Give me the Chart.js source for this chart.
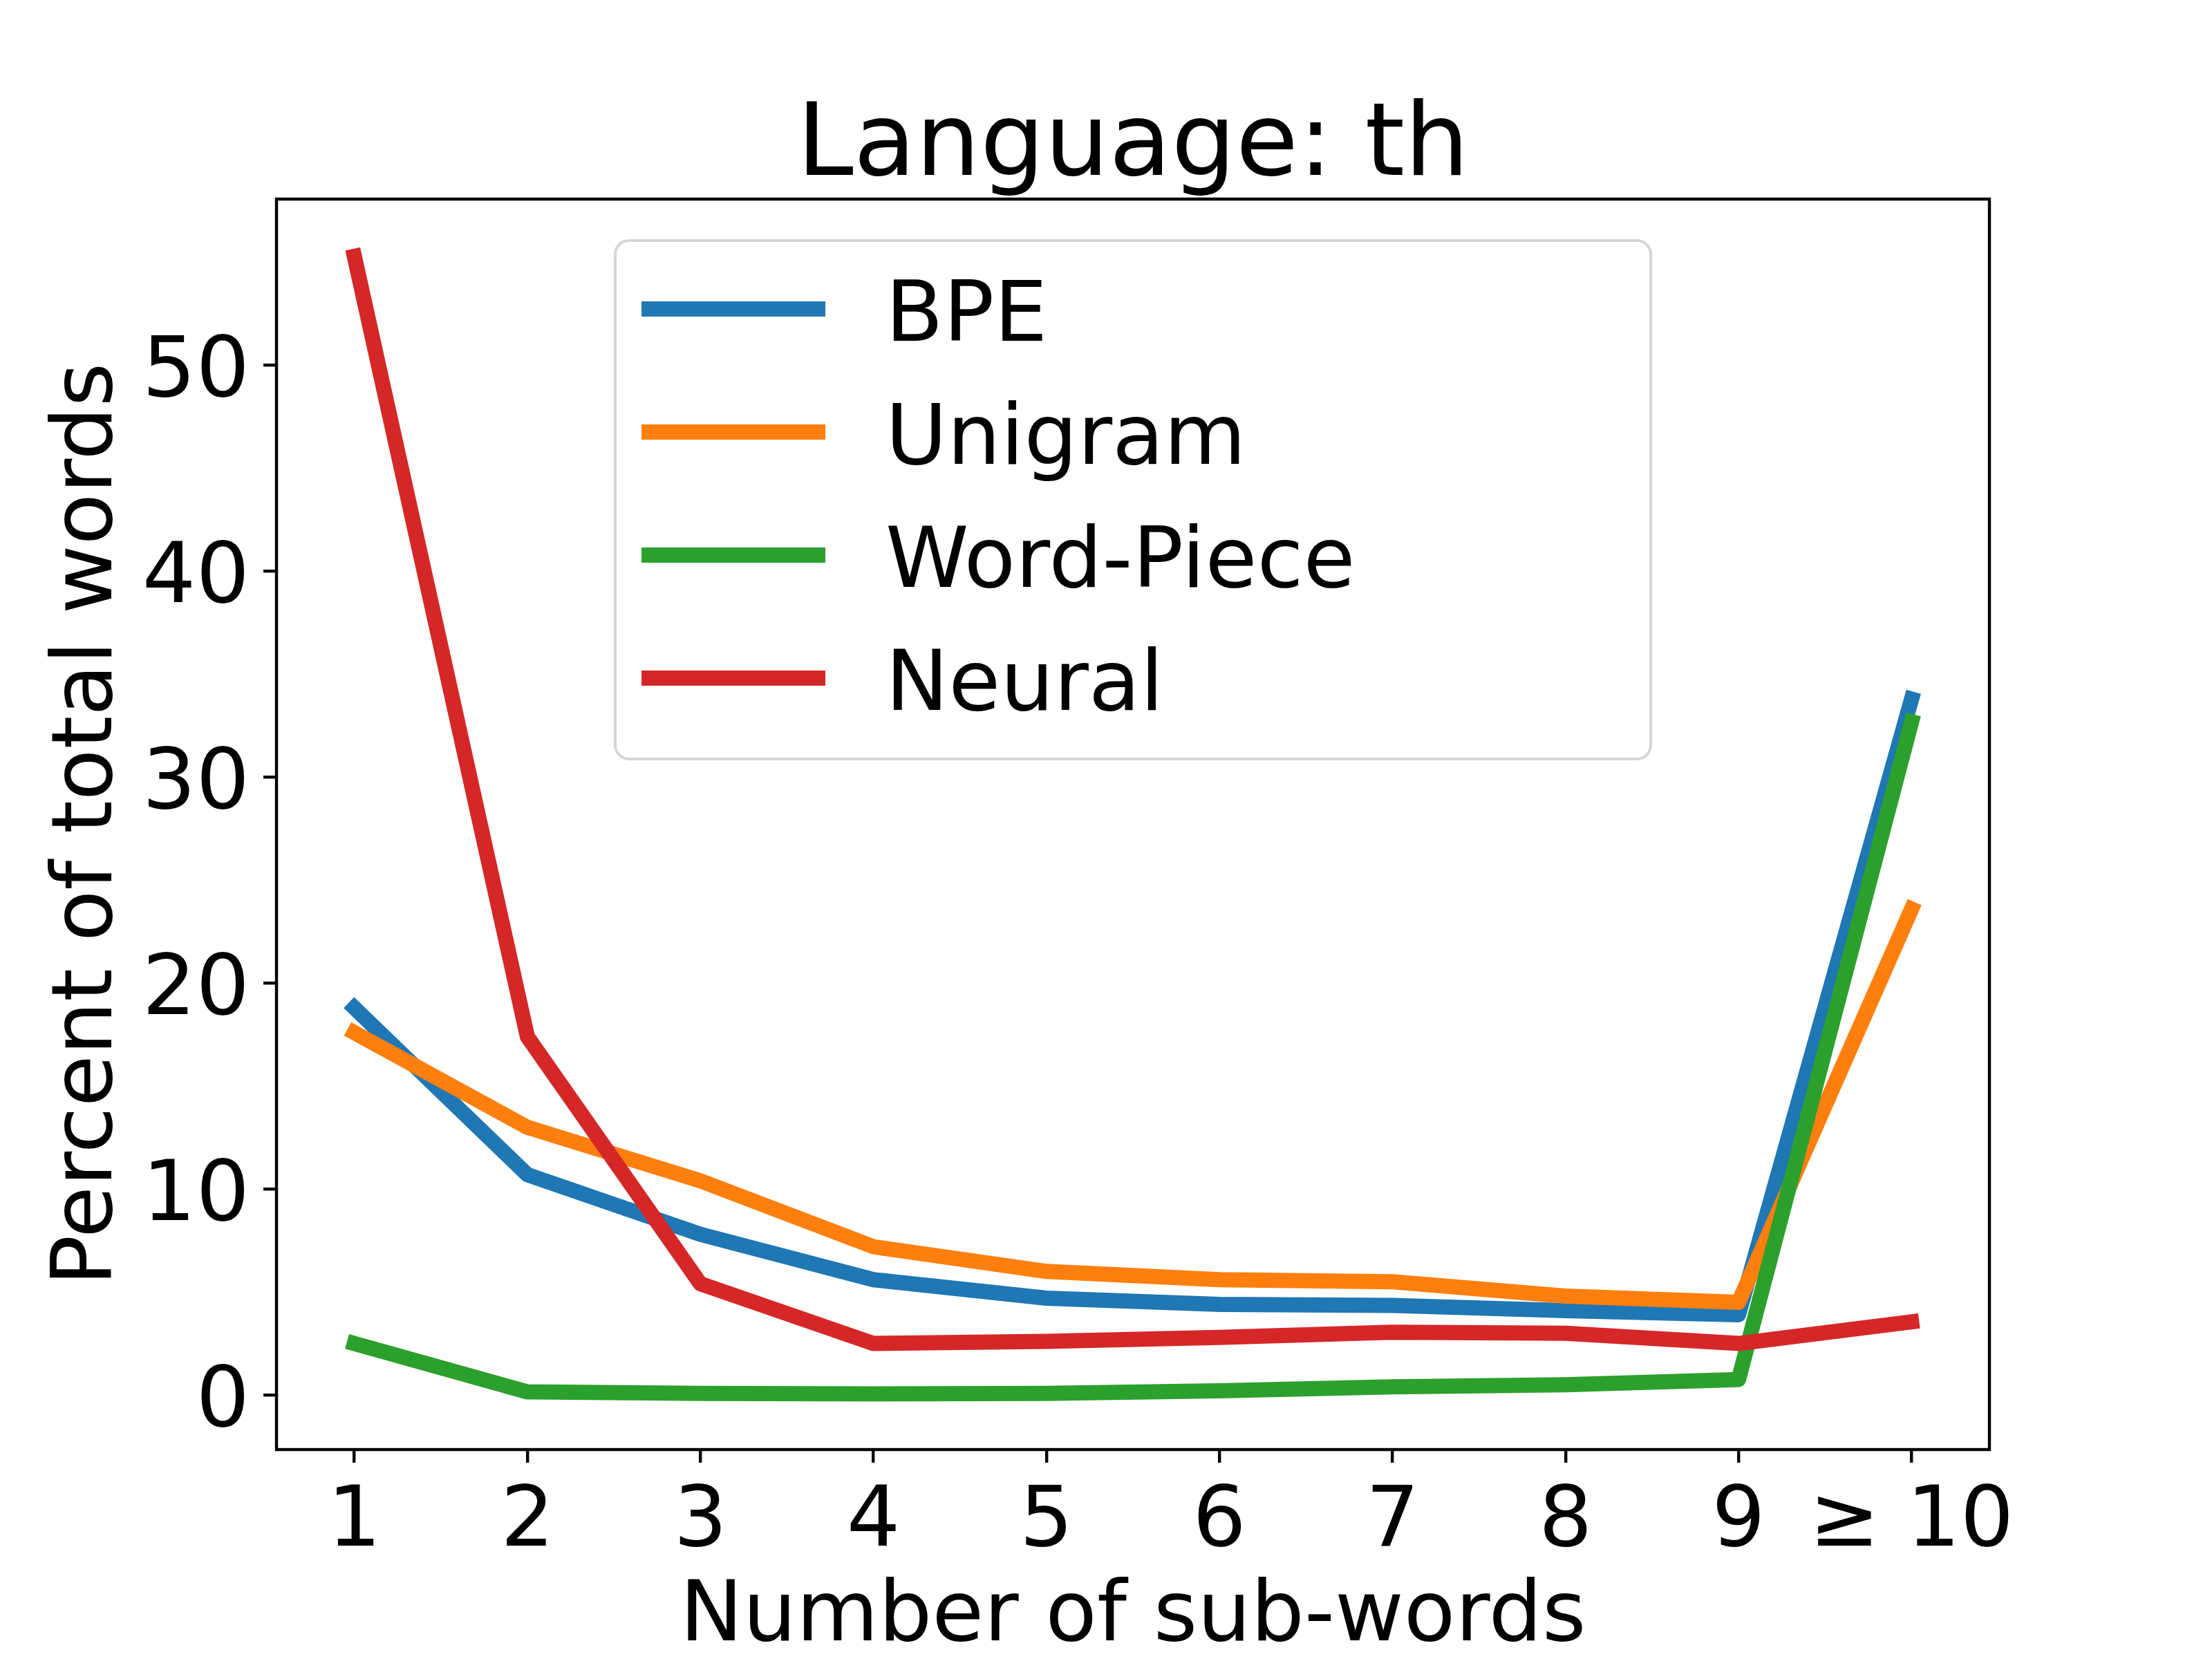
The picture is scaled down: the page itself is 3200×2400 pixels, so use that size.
<!DOCTYPE html>
<html>
<head>
<meta charset="utf-8">
<script src="https://cdn.jsdelivr.net/npm/chart.js@4"></script>
<style>
  body { margin: 0; background: #fff; }
  canvas { display: block; }
</style>
</head>
<body>
<canvas id="subwordChart" width="3200" height="2400"></canvas>
<script>
// Sub-word counts per word, language th

const categories = ['1', '2', '3', '4', '5', '6', '7', '8', '9', '≥ 10'];
const xPositions = [1, 2, 3, 4, 5, 6, 7, 8, 9, 10];
const yTicks = [0, 10, 20, 30, 40, 50];

const bpe       = [18.8, 10.7, 7.8, 5.6, 4.7, 4.4, 4.35, 4.1, 3.9, 33.8];
const unigram   = [17.6, 13.0, 10.4, 7.2, 6.0, 5.6, 5.5, 4.8, 4.5, 23.6];
const wordPiece = [2.5, 0.15, 0.08, 0.05, 0.08, 0.2, 0.4, 0.5, 0.75, 32.7];
const neural    = [55.3, 17.4, 5.4, 2.5, 2.6, 2.8, 3.05, 3.0, 2.5, 3.55];

const seriesNames = ['BPE', 'Unigram', 'Word-Piece', 'Neural'];
const seriesColors = ['#1f77b4', '#ff7f0e', '#2ca02c', '#d62728'];

const FONT = 'DejaVu Sans';
const BASE = 122;

function toPoints(values) {
    return xPositions.map((x, i) => ({ x: x, y: values[i] }));
}

// white background + the axes box (matplotlib spines)
const frame = {
    id: 'frame',
    beforeDraw(chart) {
        const ctx = chart.ctx;
        ctx.save();
        ctx.fillStyle = '#ffffff';
        ctx.fillRect(0, 0, chart.width, chart.height);
        ctx.restore();
    },
    afterDraw(chart) {
        const { ctx, chartArea: a } = chart;
        ctx.save();
        ctx.strokeStyle = '#000';
        ctx.lineWidth = 4.4;
        ctx.strokeRect(a.left, a.top, a.right - a.left, a.bottom - a.top);
        ctx.restore();
    }
};

// legend box, upper center inside the plot
const innerLegend = {
    id: 'innerLegend',
    afterDatasetsDraw(chart) {
        const { ctx, chartArea: a } = chart;
        const w = 1498, h = 750, r = 20;
        const left = (a.left + a.right) / 2 - w / 2;
        const top = a.top + 60;
        ctx.save();
        ctx.beginPath();
        ctx.roundRect(left, top, w, h, r);
        ctx.fillStyle = 'rgba(255,255,255,0.8)';
        ctx.fill();
        ctx.strokeStyle = '#d5d5d5';
        ctx.lineWidth = 4;
        ctx.stroke();

        chart.data.datasets.forEach((ds, i) => {
            const y = top + 99 + i * 178;
            ctx.beginPath();
            ctx.moveTo(left + 49, y);
            ctx.lineTo(left + 49 + 244, y);
            ctx.strokeStyle = ds.borderColor;
            ctx.lineWidth = 22;
            ctx.lineCap = 'square';
            ctx.stroke();
            ctx.fillStyle = '#000';
            ctx.font = BASE + 'px "' + FONT + '"';
            ctx.textBaseline = 'middle';
            ctx.textAlign = 'left';
            ctx.fillText(ds.label, left + 49 + 244 + 98, y + 14);
        });
        ctx.restore();
    }
};

const datasets = [bpe, unigram, wordPiece, neural].map((vals, i) => ({
    label: seriesNames[i],
    data: toPoints(vals),
    borderColor: seriesColors[i],
    backgroundColor: seriesColors[i],
    borderWidth: 22,
    borderCapStyle: 'square',
    borderJoinStyle: 'round',
    pointRadius: 0,
    tension: 0,
    fill: false,
    order: 3 - i
}));

const ctx = document.getElementById('subwordChart').getContext('2d');
new Chart(ctx, {
    type: 'line',
    data: { datasets: datasets },
    plugins: [frame, innerLegend],
    options: {
        responsive: false,
        devicePixelRatio: 1,
        animation: false,
        layout: { padding: { left: 0, right: 322, top: 0, bottom: 0 } },
        plugins: {
            legend: { display: false },
            tooltip: { enabled: false },
            title: {
                display: true,
                text: 'Language: th',
                color: '#000',
                fullSize: false,
                font: { family: FONT, size: 147, weight: 'normal', lineHeight: 1 },
                padding: { top: 141, bottom: 0 }
            }
        },
        scales: {
            x: {
                type: 'linear',
                min: 0.55,
                max: 10.45,
                afterBuildTicks: (scale) => { scale.ticks = xPositions.map(v => ({ value: v })); },
                afterFit: (scale) => { scale.height = 303; },
                grid: { drawOnChartArea: false, drawTicks: true, tickLength: 19, color: '#000', lineWidth: 4.4 },
                border: { display: false },
                ticks: {
                    autoSkip: false,
                    maxRotation: 0,
                    padding: 15,
                    color: '#000',
                    font: { family: FONT, size: BASE, lineHeight: 1.2 },
                    callback: (value, index) => categories[index]
                },
                title: {
                    display: true,
                    text: 'Number of sub-words',
                    color: '#000',
                    font: { family: FONT, size: BASE, lineHeight: 1 },
                    padding: { top: 0, bottom: -2 }
                }
            },
            y: {
                min: -2.65,
                max: 58.08,
                afterBuildTicks: (scale) => { scale.ticks = yTicks.map(v => ({ value: v })); },
                afterFit: (scale) => { scale.width = 400; },
                grid: { drawOnChartArea: false, drawTicks: true, tickLength: 19, color: '#000', lineWidth: 4.4 },
                border: { display: false },
                ticks: {
                    padding: 20,
                    labelOffset: 13,
                    color: '#000',
                    font: { family: FONT, size: BASE },
                    callback: (value) => String(value)
                },
                title: {
                    display: true,
                    text: 'Percent of total words',
                    color: '#000',
                    font: { family: FONT, size: BASE, lineHeight: 1 },
                    padding: { top: 68, bottom: 0 }
                }
            }
        }
    }
});
</script>
</body>
</html>
